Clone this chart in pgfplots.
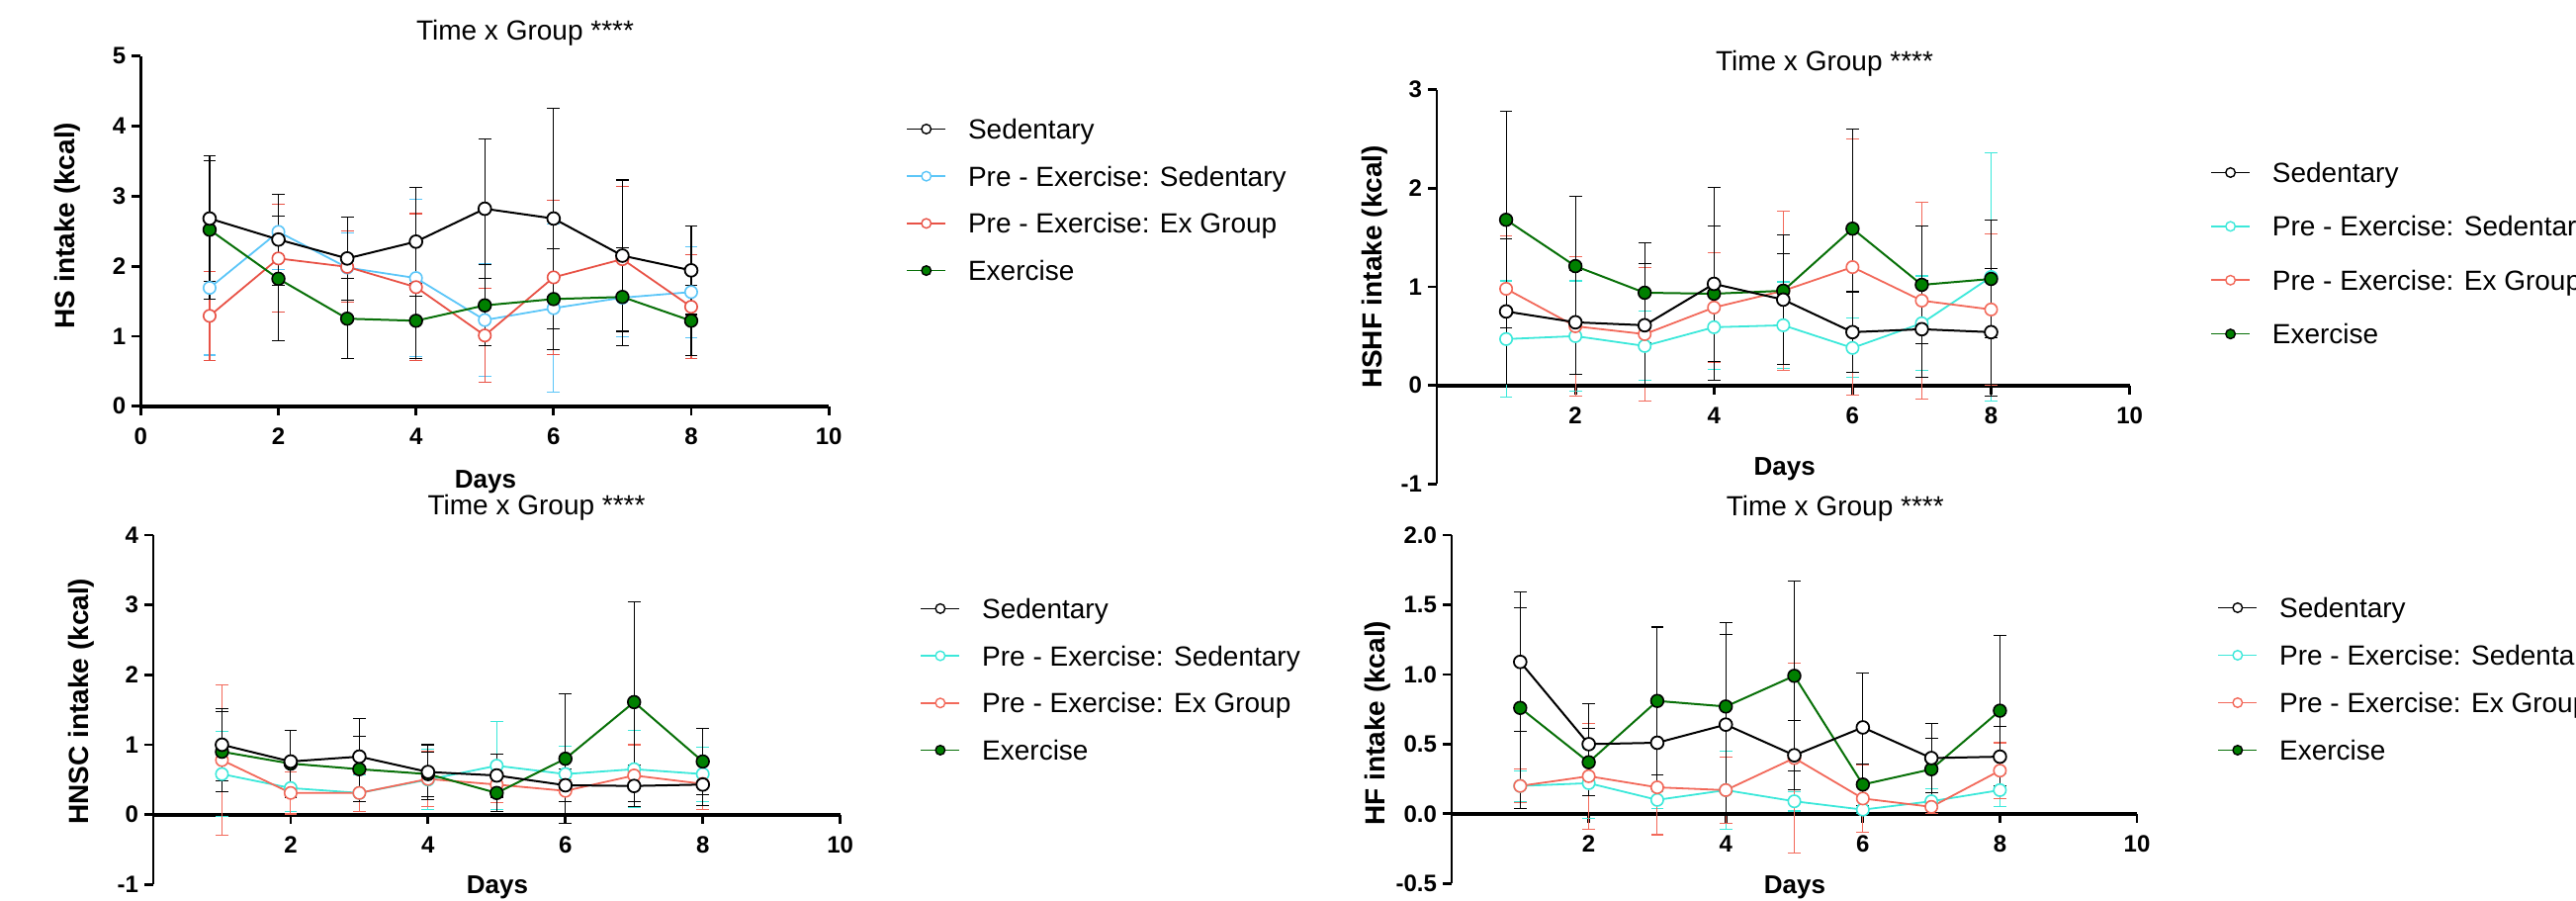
\documentclass[border=0pt]{standalone}
\usepackage{fontspec}
\setmainfont{Liberation Sans}
\usepackage{pgfplots}
\usepackage{pgfplotstable}
\pgfplotsset{compat=1.18}

\definecolor{skyb}{RGB}{92,198,248}
\definecolor{turq}{RGB}{60,232,218}
\definecolor{redA}{RGB}{232,82,70}
\definecolor{redB}{RGB}{242,105,90}
\definecolor{grn}{RGB}{0,128,0}
\definecolor{grnl}{RGB}{8,112,8}

% d = day, s = Sedentary, p = Pre-Ex: Sedentary, r = Pre-Ex: Ex Group, g = Exercise
\pgfplotstableread{
d s se p pe r re g ge
1 2.68 0.90 1.69 0.96 1.29 0.64 2.52 0.99
2 2.38 0.65 2.49 0.54 2.11 0.77 1.82 0.89
3 2.11 0.59 1.98 0.49 1.99 0.51 1.25 0.57
4 2.35 0.78 1.83 1.12 1.70 1.05 1.22 0.54
5 2.82 1.00 1.23 0.80 1.01 0.67 1.44 0.58
6 2.68 1.57 1.40 1.20 1.84 1.10 1.53 0.72
7 2.15 1.08 1.55 0.56 2.10 1.04 1.56 0.70
8 1.94 0.63 1.63 0.65 1.42 0.74 1.22 0.50
}\hsdata
\pgfplotstableread{
d s se p pe r re g ge
1 0.75 0.74 0.47 0.59 0.98 0.54 1.68 1.10
2 0.64 0.53 0.50 0.56 0.60 0.71 1.21 0.71
3 0.61 0.63 0.40 0.35 0.52 0.68 0.94 0.51
4 1.03 0.98 0.59 0.43 0.79 0.56 0.93 0.69
5 0.87 0.66 0.61 0.44 0.96 0.81 0.96 0.38
6 0.54 0.41 0.38 0.30 1.20 1.30 1.59 1.01
7 0.57 0.49 0.63 0.48 0.86 1.00 1.02 0.60
8 0.54 0.65 1.10 1.26 0.77 0.77 1.08 0.60
}\hshfdata
\pgfplotstableread{
d s se p pe r re g ge
1 1.00 0.52 0.58 0.61 0.78 1.07 0.90 0.57
2 0.76 0.44 0.38 0.33 0.31 0.30 0.73 0.48
3 0.83 0.55 0.31 0.26 0.31 0.27 0.65 0.47
4 0.61 0.39 0.50 0.43 0.51 0.40 0.58 0.32
5 0.56 0.31 0.70 0.63 0.43 0.26 0.31 0.26
6 0.42 0.23 0.58 0.40 0.34 0.16 0.80 0.93
7 0.41 0.30 0.65 0.55 0.56 0.44 1.61 1.43
8 0.43 0.30 0.58 0.39 0.44 0.37 0.76 0.47
}\hnscdata
\pgfplotstableread{
d s se p pe r re g ge
1 1.09 0.50 0.20 0.11 0.20 0.12 0.76 0.72
2 0.50 0.29 0.22 0.25 0.27 0.38 0.37 0.24
3 0.51 0.30 0.10 0.06 0.19 0.34 0.81 0.53
4 0.64 0.65 0.17 0.28 0.17 0.24 0.77 0.60
5 0.42 0.25 0.09 0.07 0.40 0.68 0.99 0.68
6 0.62 0.39 0.03 0.03 0.11 0.24 0.21 0.15
7 0.40 0.25 0.09 0.09 0.05 0.05 0.32 0.22
8 0.41 0.22 0.17 0.12 0.31 0.20 0.74 0.54
}\hfdata

\pgfplotsset{
  ebar/.style={error bars/y dir=both, error bars/y explicit,
    error bars/error bar style={line width=0.55pt, #1},
    error bars/error mark options={rotate=90, mark size=3.2pt, line width=0.55pt, #1}},
  sSed/.style={black, line width=1pt, mark=*, mark size=3.2pt,
    mark options={fill=white, draw=black, line width=0.9pt}, ebar=black},
  sPre/.style={#1, line width=0.9pt, mark=*, mark size=3.1pt,
    mark options={fill=white, draw=#1, line width=0.8pt}, ebar=#1},
  sEx/.style={grnl, line width=1pt, mark=*, mark size=3.2pt,
    mark options={fill=grn, draw=black, line width=0.8pt}, ebar=black},
  lSed/.style={black, line width=0.8pt, mark=*, mark size=2.4pt, mark options={fill=white, draw=black, line width=0.7pt}},
  lPre/.style={#1, line width=0.8pt, mark=*, mark size=2.4pt, mark options={fill=white, draw=#1, line width=0.7pt}},
  lEx/.style={grnl, line width=0.8pt, mark=*, mark size=2.4pt, mark options={fill=grn, draw=black, line width=0.7pt}},
  panel/.style={
    scale only axis, anchor=south west, xmin=0, xmax=10,
    axis y line=left,
    axis line style={-, line width=1.4pt},
    x axis line style={-, line width=2pt},
    y axis line style={-},
    tick style={black, line width=1.4pt},
    major tick length=4.5pt, tick align=outside,
    ticklabel style={font=\fontsize{12}{14}\selectfont\bfseries},
    xticklabel style={yshift=-3pt},
    yticklabel style={xshift=0.5pt},
    every axis title shift=0pt,
    title style={font=\fontsize{14}{16}\selectfont, anchor=base},
    xlabel=Days,
    xlabel style={font=\fontsize{13}{15}\selectfont\bfseries, anchor=base},
    ylabel style={font=\fontsize{14}{16}\selectfont\bfseries, anchor=center},
    legend cell align=left,
    legend style={draw=none, fill=none, inner sep=0pt, anchor=north west,
      font=\fontsize{14}{16}\selectfont,
      nodes={inner sep=2pt, text height=11pt, text depth=1pt},
      /tikz/every odd column/.append style={column sep=9pt}},
    legend image code/.code={%
      \draw[mark repeat=2,mark phase=2] plot coordinates {(0pt,0pt) (9.75pt,0pt) (19.5pt,0pt)};},
    clip=false,
  },
}

\begin{document}
\begin{tikzpicture}
\path[use as bounding box] (0pt,0pt) rectangle (1302.5pt,-455pt);

% ---------------- Panel 1: HS ----------------
\begin{axis}[axis x line=bottom, panel, at={(71.2pt,-205.35pt)}, width=347.85pt, height=177pt,
  ymin=0, ymax=5, ytick={0,1,2,3,4,5}, yticklabels={0,1,2,3,4,5},
  xtick={0,2,4,6,8,10}, xticklabels={0,2,4,6,8,10},
  title={Time x Group ****},
  title style={at={(axis description cs:0.5586,1.047)}},
  xlabel style={at={(axis description cs:0.501,-0.233)}},
  ylabel={HS intake (kcal)},
  ylabel style={at={(axis description cs:-0.107,0.516)}},
  legend style={at={(axis description cs:1.112,0.838)}, row sep=7.85pt},
]
\addlegendimage{lSed}\addlegendentry{Sedentary}
\addlegendimage{lPre=skyb}\addlegendentry{Pre - Exercise: Sedentary}
\addlegendimage{lPre=redA}\addlegendentry{Pre - Exercise: Ex Group}
\addlegendimage{lEx}\addlegendentry{Exercise}
\addplot[sPre=skyb, forget plot] table[x=d, y=p, y error=pe] {\hsdata};
\addplot[sPre=redA, forget plot] table[x=d, y=r, y error=re] {\hsdata};
\addplot[sEx, forget plot] table[x=d, y=g, y error=ge] {\hsdata};
\addplot[sSed, forget plot] table[x=d, y=s, y error=se] {\hsdata};
\end{axis}

% ---------------- Panel 2: HSHF ----------------
\begin{axis}[axis x line=middle, panel, at={(726.5pt,-244.65pt)}, width=350.3pt, height=199.3pt,
  ymin=-1, ymax=3, ytick={-1,0,1,2,3}, yticklabels={-1,0,1,2,3},
  xtick={2,4,6,8,10}, xticklabels={2,4,6,8,10},
  title={Time x Group ****},
  title style={at={(axis description cs:0.5595,1.047)}},
  xlabel style={at={(axis description cs:0.502,0.023)}},
  ylabel={HSHF intake (kcal)},
  ylabel style={at={(axis description cs:-0.09,0.55)}},
  legend style={at={(axis description cs:1.116,0.831)}, row sep=11.2pt},
]
\addlegendimage{lSed}\addlegendentry{Sedentary}
\addlegendimage{lPre=turq}\addlegendentry{Pre - Exercise: Sedentary}
\addlegendimage{lPre=redB}\addlegendentry{Pre - Exercise: Ex Group}
\addlegendimage{lEx}\addlegendentry{Exercise}
\addplot[sPre=turq, forget plot] table[x=d, y=p, y error=pe] {\hshfdata};
\addplot[sPre=redB, forget plot] table[x=d, y=r, y error=re] {\hshfdata};
\addplot[sEx, forget plot] table[x=d, y=g, y error=ge] {\hshfdata};
\addplot[sSed, forget plot] table[x=d, y=s, y error=se] {\hshfdata};
\end{axis}

% ---------------- Panel 3: HNSC ----------------
\begin{axis}[axis x line=middle, panel, at={(77.5pt,-447.15pt)}, width=347.3pt, height=176.65pt,
  ymin=-1, ymax=4, ytick={-1,0,1,2,3,4}, yticklabels={-1,0,1,2,3,4},
  xtick={2,4,6,8,10}, xticklabels={2,4,6,8,10},
  title={Time x Group ****},
  title style={at={(axis description cs:0.558,1.059)}},
  xlabel style={at={(axis description cs:0.501,-0.025)}},
  ylabel={HNSC intake (kcal)},
  ylabel style={at={(axis description cs:-0.105,0.524)}},
  legend style={at={(axis description cs:1.116,0.836)}, row sep=7.85pt},
]
\addlegendimage{lSed}\addlegendentry{Sedentary}
\addlegendimage{lPre=turq}\addlegendentry{Pre - Exercise: Sedentary}
\addlegendimage{lPre=redB}\addlegendentry{Pre - Exercise: Ex Group}
\addlegendimage{lEx}\addlegendentry{Exercise}
\addplot[sPre=turq, forget plot] table[x=d, y=p, y error=pe] {\hnscdata};
\addplot[sPre=redB, forget plot] table[x=d, y=r, y error=re] {\hnscdata};
\addplot[sEx, forget plot] table[x=d, y=g, y error=ge] {\hnscdata};
\addplot[sSed, forget plot] table[x=d, y=s, y error=se] {\hnscdata};
\end{axis}

% ---------------- Panel 4: HF ----------------
\begin{axis}[axis x line=middle, panel, at={(734pt,-446.65pt)}, width=346.5pt, height=176.15pt,
  ymin=-0.5, ymax=2, ytick={-0.5,0,0.5,1,1.5,2}, yticklabels={-0.5,0.0,0.5,1.0,1.5,2.0},
  xtick={2,4,6,8,10}, xticklabels={2,4,6,8,10},
  title={Time x Group ****},
  title style={at={(axis description cs:0.5595,1.054)}},
  xlabel style={at={(axis description cs:0.5007,-0.0275)}},
  ylabel={HF intake (kcal)},
  ylabel style={at={(axis description cs:-0.108,0.46)}},
  legend style={at={(axis description cs:1.117,0.838)}, row sep=8pt},
]
\addlegendimage{lSed}\addlegendentry{Sedentary}
\addlegendimage{lPre=turq}\addlegendentry{Pre - Exercise: Sedentary}
\addlegendimage{lPre=redB}\addlegendentry{Pre - Exercise: Ex Group}
\addlegendimage{lEx}\addlegendentry{Exercise}
\addplot[sPre=turq, forget plot] table[x=d, y=p, y error=pe] {\hfdata};
\addplot[sPre=redB, forget plot] table[x=d, y=r, y error=re] {\hfdata};
\addplot[sEx, forget plot] table[x=d, y=g, y error=ge] {\hfdata};
\addplot[sSed, forget plot] table[x=d, y=s, y error=se] {\hfdata};
\end{axis}
\end{tikzpicture}
\end{document}
